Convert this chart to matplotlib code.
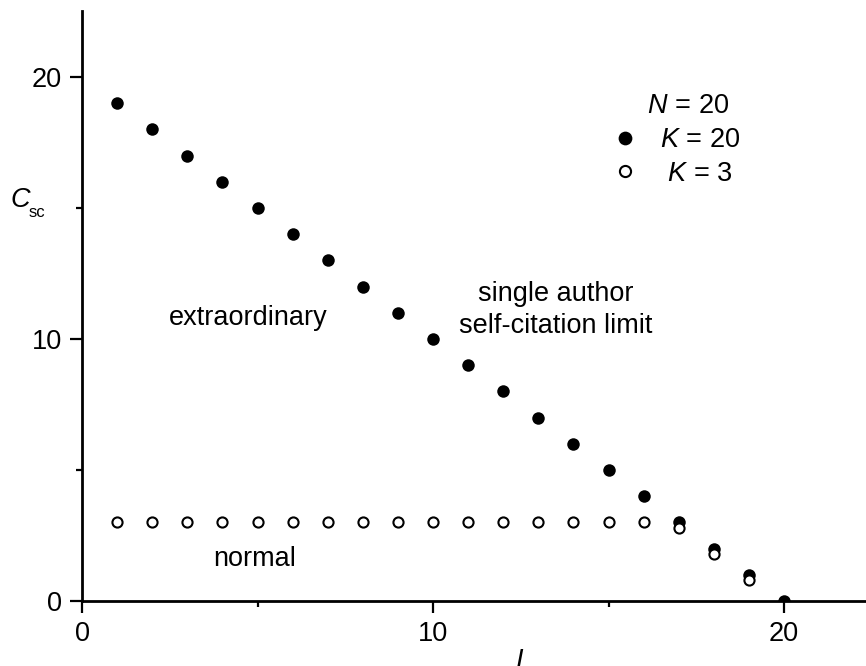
import numpy as np
import matplotlib
matplotlib.use('Agg')
import matplotlib.pyplot as plt

plt.rcParams['font.family'] = ['Liberation Sans', 'DejaVu Sans']
plt.rcParams['mathtext.fontset'] = 'custom'
plt.rcParams['mathtext.rm'] = 'Liberation Sans'
plt.rcParams['mathtext.it'] = 'Liberation Sans:italic'

# data
I_k20 = np.arange(1, 21)
C_k20 = [19, 18, 17, 16, 15, 14, 13, 12, 11, 10, 9, 8, 7, 6, 5, 4, 3, 2, 1, 0]
I_k3 = np.arange(1, 20)
C_k3 = [3, 3, 3, 3, 3, 3, 3, 3, 3, 3, 3, 3, 3, 3, 3, 3, 2.8, 1.8, 0.8]

W, H = 866, 666
fig = plt.figure(figsize=(W / 100, H / 100), dpi=100)
ax = fig.add_axes([82 / W, 65 / H, (W - 82) / W, (601 - 11) / H])

fs = 19.5
ax.plot(I_k20, C_k20, 'o', color='black', ms=9, mew=0, label='$K$ = 20', zorder=3)
ax.plot(I_k3, C_k3, 'o', mfc='white', mec='black', ms=7.3, mew=1.5, label=' $K$ = 3', zorder=4)

ax.set_xlim(0, 784 / 35.1)
ax.set_ylim(0, 590 / 26.2)
ax.set_xticks([0, 10, 20])
ax.set_yticks([0, 10, 20])
ax.set_xticks([5, 15], minor=True)
ax.set_yticks([5, 15], minor=True)
for s in ['top', 'right']:
    ax.spines[s].set_visible(False)
for s in ['left', 'bottom']:
    ax.spines[s].set_linewidth(2.0)
ax.tick_params(which='major', direction='out', length=8.6, width=1.6, labelsize=fs, pad=6)
ax.tick_params(which='minor', direction='out', length=4.3, width=1.6)

ax.text(4.73, 10.8, 'extraordinary', fontsize=fs, ha='center', va='center')
ax.text(13.5, 11.1, 'single author\nself-citation limit', fontsize=fs, ha='center', va='center',
        linespacing=1.27)
ax.text(4.93, 1.6, 'normal', fontsize=fs, ha='center', va='center')

leg = ax.legend(title='   $N$ = 20', fontsize=fs, title_fontsize=fs, frameon=False,
                loc='center', bbox_to_anchor=(677 / W, 1 - 140 / H),
                bbox_transform=fig.transFigure, handlelength=0.8, handletextpad=0.9,
                labelspacing=0.28, borderpad=0, numpoints=1, markerscale=1.1)

# axis labels
fig.text(10 / W, 1 - 207 / H, '$C$', fontsize=fs, ha='left', va='baseline')
fig.text(29 / W, 1 - 217 / H, 'sc', fontsize=12, ha='left', va='baseline')
fig.text(520 / W, 1 - 668 / H, '$I$', fontsize=fs, ha='center', va='baseline')

fig.savefig('out.png', dpi=100)
